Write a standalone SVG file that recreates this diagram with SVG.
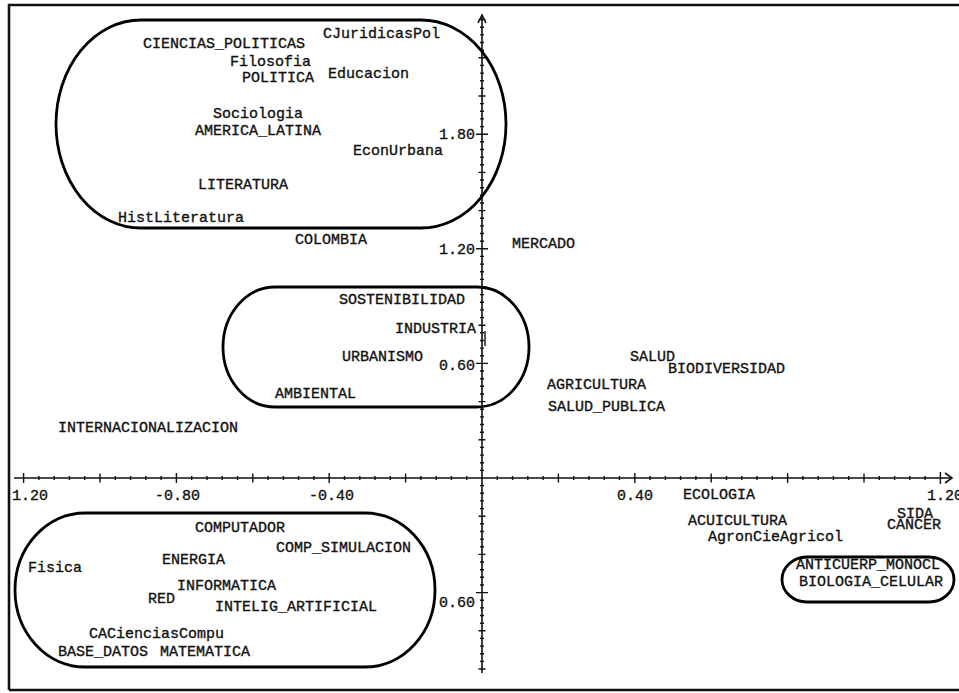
<svg xmlns="http://www.w3.org/2000/svg" width="959" height="693" viewBox="0 0 959 693">
<style>
text{font-family:"Liberation Mono","DejaVu Sans Mono",monospace;font-size:15px;fill:#111;stroke:#111;stroke-width:0.35;}
.ax{stroke:#111;stroke-width:1.6;fill:none;}
.tk{stroke:#111;stroke-width:1.4;fill:none;}
.grp{stroke:#000;stroke-width:2.8;fill:none;}
.frame{stroke:#111;stroke-width:2.6;fill:none;}
</style>
<rect width="959" height="693" fill="#fff"/>
<path class="frame" d="M9,690 V5 H959 M9,690 H959"/>
<g id="axes">
<path class="ax" d="M482,15 V673 M14,478 H952"/>
<path class="ax" d="M478,23 L482,15 L486,23 M945,473 L952,478 L945,483"/>
<path class="tk" d="M497.3,476v4M512.6,476v4M527.8,476v4M543.1,476v4M573.7,476v4M589,476v4M604.2,476v4M619.5,476v4M650.1,476v4M665.4,476v4M680.6,476v4M695.9,476v4M726.5,476v4M741.8,476v4M757,476v4M772.3,476v4M802.9,476v4M818.2,476v4M833.4,476v4M848.7,476v4M879.3,476v4M894.6,476v4M909.8,476v4M925.1,476v4
M466.7,476v4M451.4,476v4M436.2,476v4M420.9,476v4M390.3,476v4M375,476v4M359.8,476v4M344.5,476v4M313.9,476v4M298.6,476v4M283.4,476v4M268.1,476v4M237.5,476v4M222.2,476v4M207,476v4M191.7,476v4M161.1,476v4M145.8,476v4M130.6,476v4M115.3,476v4M84.7,476v4M69.4,476v4M54.2,476v4M38.9,476v4"/>
<path class="tk" d="M558.4,473.5v9M634.8,473v10M711.2,473.5v9M787.6,473v10M864,473.5v9M940.4,472v12M405.6,473.5v9M329.2,473v10M252.8,473.5v9M176.4,473v10M100,473.5v9M23.6,473v10"/>
<path class="tk" d="M480,470.4h4M480,462.7h4M480,455.1h4M480,447.4h4M480,432.2h4M480,424.5h4M480,416.9h4M480,409.2h4M480,394h4M480,386.3h4M480,378.7h4M480,371h4M480,355.8h4M480,348.1h4M480,340.5h4M480,332.8h4M480,317.6h4M480,309.9h4M480,302.3h4M480,294.6h4M480,279.4h4M480,271.7h4M480,264.1h4M480,256.4h4M480,241.2h4M480,233.5h4M480,225.9h4M480,218.2h4M480,203h4M480,195.3h4M480,187.7h4M480,180h4M480,164.8h4M480,157.1h4M480,149.5h4M480,141.8h4M480,126.6h4M480,118.9h4M480,111.3h4M480,103.6h4M480,88.4h4M480,80.7h4M480,73.1h4M480,65.4h4M480,50.2h4M480,42.5h4M480,34.9h4M480,27.2h4
M480,485.6h4M480,493.3h4M480,500.9h4M480,508.6h4M480,523.8h4M480,531.5h4M480,539.1h4M480,546.8h4M480,562h4M480,569.7h4M480,577.3h4M480,585h4M480,600.2h4M480,607.9h4M480,615.5h4M480,623.2h4M480,638.4h4M480,646.1h4M480,653.7h4M480,661.4h4"/>
<path class="tk" d="M478.5,439.8h7M478.5,401.6h7M476,363.4h12M478.5,325.2h7M478.5,287h7M476,248.8h12M478.5,210.6h7M478.5,172.4h7M476,134.2h12M478.5,96h7M478.5,57.8h7M478.5,19.6h7M478.5,516.2h7M478.5,554.4h7M476,592.6h12M478.5,630.8h7M478.5,669h7"/>
<path class="tk" d="M485,331 V346"/>
<text x="12" y="500">1.20</text>
<text x="155" y="500">-0.80</text>
<text x="309" y="500">-0.40</text>
<text x="617" y="500">0.40</text>
<text x="927" y="500">1.20</text>
<text x="475" y="139" text-anchor="end">1.80</text>
<text x="475" y="254" text-anchor="end">1.20</text>
<text x="475" y="370" text-anchor="end">0.60</text>
<text x="475" y="607" text-anchor="end">0.60</text>
</g>
<g id="groups">
<rect id="g-humanidades" class="grp" x="56" y="20" width="450" height="208" rx="85" ry="104"/>
<rect id="g-ambiental" class="grp" x="223" y="287" width="306" height="120" rx="52" ry="60"/>
<rect id="g-computacion" class="grp" x="15" y="513" width="420" height="154" rx="70" ry="77"/>
<rect id="g-celular" class="grp" x="782" y="557" width="172" height="45" rx="25" ry="22.5"/>
</g>
<g id="n-ciencias_politicas"><text x="143" y="48">CIENCIAS_POLITICAS</text></g>
<g id="n-cjuridicaspol"><text x="323" y="38">CJuridicasPol</text></g>
<g id="n-filosofia"><text x="230" y="66">Filosofia</text></g>
<g id="n-politica"><text x="242" y="82">POLITICA</text></g>
<g id="n-educacion"><text x="328" y="78">Educacion</text></g>
<g id="n-sociologia"><text x="213" y="118">Sociologia</text></g>
<g id="n-america_latina"><text x="195" y="135">AMERICA_LATINA</text></g>
<g id="n-econurbana"><text x="353" y="155">EconUrbana</text></g>
<g id="n-literatura"><text x="198" y="189">LITERATURA</text></g>
<g id="n-histliteratura"><text x="118" y="222">HistLiteratura</text></g>
<g id="n-colombia"><text x="295" y="244">COLOMBIA</text></g>
<g id="n-mercado"><text x="512" y="248">MERCADO</text></g>
<g id="n-sostenibilidad"><text x="339" y="304">SOSTENIBILIDAD</text></g>
<g id="n-industria"><text x="395" y="333">INDUSTRIA</text></g>
<g id="n-urbanismo"><text x="342" y="361">URBANISMO</text></g>
<g id="n-ambiental"><text x="275" y="398">AMBIENTAL</text></g>
<g id="n-internacionalizacion"><text x="58" y="432">INTERNACIONALIZACION</text></g>
<g id="n-salud"><text x="630" y="361">SALUD</text></g>
<g id="n-biodiversidad"><text x="668" y="373">BIODIVERSIDAD</text></g>
<g id="n-agricultura"><text x="547" y="389">AGRICULTURA</text></g>
<g id="n-salud_publica"><text x="548" y="411">SALUD_PUBLICA</text></g>
<g id="n-ecologia"><text x="683" y="499">ECOLOGIA</text></g>
<g id="n-acuicultura"><text x="688" y="525">ACUICULTURA</text></g>
<g id="n-agroncieagricol"><text x="708" y="541">AgronCieAgricol</text></g>
<g id="n-sida"><text x="897" y="518">SIDA</text></g>
<g id="n-cancer"><text x="887" y="529">CANCER</text></g>
<g id="n-anticuerp_monocl"><text x="796" y="569">ANTICUERP_MONOCL</text></g>
<g id="n-biologia_celular"><text x="799" y="586">BIOLOGIA_CELULAR</text></g>
<g id="n-computador"><text x="195" y="532">COMPUTADOR</text></g>
<g id="n-comp_simulacion"><text x="276" y="552">COMP_SIMULACION</text></g>
<g id="n-fisica"><text x="28" y="572">Fisica</text></g>
<g id="n-energia"><text x="162" y="564">ENERGIA</text></g>
<g id="n-informatica"><text x="177" y="590">INFORMATICA</text></g>
<g id="n-red"><text x="148" y="603">RED</text></g>
<g id="n-intelig_artificial"><text x="215" y="611">INTELIG_ARTIFICIAL</text></g>
<g id="n-caciencias"><text x="89" y="638">CACienciasCompu</text></g>
<g id="n-base_datos"><text x="58" y="656">BASE_DATOS</text></g>
<g id="n-matematica"><text x="160" y="656">MATEMATICA</text></g>
</svg>
